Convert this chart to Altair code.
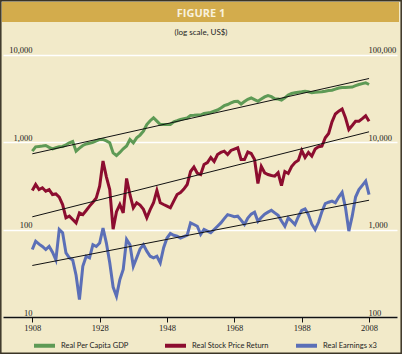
import altair as alt
import pandas as pd

years = list(range(1908, 2009))

gdp = [7850, 8810, 8900, 9000, 9120, 8700, 8360, 8600, 8810, 8900,
       9290, 9800, 10140, 7850, 8500, 9120, 9500, 9700, 9900, 10300,
       10690, 10690, 10300, 9790, 7500, 7010, 7600, 8360, 9000, 10690,
       9790, 11170, 12000, 13280, 15850, 17500, 18910, 17300, 15850, 15850,
       15850, 15850, 17000, 17500, 18070, 18500, 18800, 20090, 20200, 20370,
       20300, 21200, 21500, 21730, 22500, 23200, 24500, 26000, 26830, 28000,
       29040, 29200, 27180, 29000, 30800, 31840, 30500, 29240, 31000, 32800,
       33980, 33000, 31170, 31000, 30200, 32000, 34500, 35820, 36500, 37000,
       37500, 38100, 37500, 36480, 37000, 37300, 37500, 38000, 38700, 39080,
       40200, 41400, 42000, 42000, 42270, 42500, 44000, 45390, 46500, 47530,
       45390]

stock = [279, 327, 286, 300, 274, 286, 251, 255, 235, 193,
         136, 142, 130, 119, 155, 148, 165, 185, 205, 230,
         313, 607, 400, 286, 101, 160, 193, 155, 383, 250,
         177, 202, 190, 170, 136, 169, 202, 279, 202, 193,
         185, 177, 211, 251, 265, 290, 327, 460, 518, 440,
         425, 553, 583, 665, 599, 720, 760, 785, 720, 800,
         830, 859, 631, 631, 768, 739, 631, 336, 525, 445,
         425, 415, 407, 445, 318, 460, 437, 525, 583, 620,
         800, 665, 759, 689, 832, 882, 895, 1117, 1251, 1700,
         2089, 2250, 2384, 1891, 1389, 1544, 1728, 1728, 1850, 1993,
         1728]

earnings = [59, 73.5, 68, 64, 59, 64, 55, 45, 100, 92,
            54, 47.5, 45, 30, 15.8, 38, 49.5, 47.5, 67, 64,
            70, 104, 70, 41.6, 22, 17.3, 26.8, 35, 77, 67,
            38, 47.5, 60, 67, 56.5, 49.5, 47.5, 49.5, 41.6, 62,
            80, 90, 86, 84, 80, 83, 86, 119, 114, 109,
            88, 100, 96, 92, 100, 109, 119, 133, 148, 144,
            140, 142, 128, 114, 135, 150, 158, 124, 137, 150,
            158, 166, 155, 145, 125, 109, 136, 125, 114, 140,
            165, 172, 148, 115, 100, 121, 160, 198, 205, 211,
            202, 235, 266, 178, 96, 142, 235, 286, 320, 357,
            251]

trend_years = [1908, 2008]
gdp_trend = [7330, 53190]
stock_trend = [139.7, 1308]
earn_trend = [38.8, 216]

series_names = ["Real Per Capita GDP", "Real Stock Price Return", "Real Earnings x3"]
series_colors = ["#5e9a55", "#8c0d2f", "#5b6fb7"]
left_ticks = [10, 100, 1000, 10000]
right_ticks = [100, 1000, 10000, 100000]
x_ticks = [1908, 1928, 1948, 1968, 1988, 2008]

n = len(years)
df_left = pd.DataFrame({
    "year": years + years,
    "value": stock + earnings,
    "series": [series_names[1]] * n + [series_names[2]] * n,
})
df_gdp = pd.DataFrame({"year": years, "value": gdp, "series": [series_names[0]] * n})
df_trend_left = pd.DataFrame({
    "year": trend_years + trend_years,
    "value": stock_trend + earn_trend,
    "grp": ["stock", "stock", "earn", "earn"],
})
df_trend_right = pd.DataFrame({"year": trend_years, "value": gdp_trend})
deco = pd.DataFrame({"t": ["FIGURE 1"], "s": ["(log scale, US$)"]})

W, H = 394, 276
NUM_FONT = "Liberation Serif"
TXT_FONT = "Lato"

x_scale = alt.Scale(domain=[1899.3, 2016.3], nice=False, zero=False)
left_scale = alt.Scale(type="log", domain=[10, 14270], nice=False)
right_scale = alt.Scale(type="log", domain=[100, 142700], nice=False)
color_scale = alt.Scale(domain=series_names, range=series_colors)

x_axis = alt.Axis(values=x_ticks, format="d", title=None, grid=False,
                  domainColor="#111", domainWidth=1.5, tickColor="#111",
                  tickSize=5, tickWidth=1, labelFont=NUM_FONT, labelFontSize=8.5,
                  labelColor="#222", labelPadding=1, labelFlush=False)
left_axis = alt.Axis(values=left_ticks, format=",", title=None, orient="left",
                     domain=False, ticks=False, grid=True, gridColor="white",
                     gridWidth=1.5, labelAlign="right", labelPadding=-29,
                     labelBaseline="alphabetic", labelOffset=-2,
                     labelFont=NUM_FONT, labelFontSize=8.5, labelColor="#222")
right_axis = alt.Axis(values=right_ticks, format=",", title=None, orient="right",
                      domain=False, ticks=False, grid=False, labelAlign="left",
                      labelPadding=-29, labelBaseline="alphabetic", labelOffset=-2,
                      labelFont=NUM_FONT, labelFontSize=8.5, labelColor="#222")
legend = alt.Legend(title=None, orient="none", legendX=29, legendY=292,
                    direction="horizontal", symbolType="stroke", symbolSize=441,
                    symbolStrokeWidth=4, labelFont=TXT_FONT, labelFontSize=7.5,
                    labelColor="#222", columnPadding=19, gridAlign="all",
                    labelOffset=4)

x_enc = alt.X("year:Q", scale=x_scale, axis=x_axis)

left_lines = alt.Chart(df_left).mark_line(strokeWidth=3).encode(
    x=x_enc,
    y=alt.Y("value:Q", scale=left_scale, axis=left_axis),
    color=alt.Color("series:N", scale=color_scale, legend=legend),
)
left_trend = alt.Chart(df_trend_left).mark_line(color="#111", strokeWidth=1).encode(
    x=x_enc,
    y=alt.Y("value:Q", scale=left_scale, axis=left_axis),
    detail="grp:N",
)
left = alt.layer(left_lines, left_trend)

right_lines = alt.Chart(df_gdp).mark_line(strokeWidth=3).encode(
    x=x_enc,
    y=alt.Y("value:Q", scale=right_scale, axis=right_axis),
    color=alt.Color("series:N", scale=color_scale, legend=legend),
)
right_trend = alt.Chart(df_trend_right).mark_line(color="#111", strokeWidth=1).encode(
    x=x_enc,
    y=alt.Y("value:Q", scale=right_scale, axis=right_axis),
)
right = alt.layer(right_lines, right_trend)

band = alt.Chart(deco).mark_rect(color="#d3ac4c").encode(
    x=alt.value(-1), x2=alt.value(396), y=alt.value(-39), y2=alt.value(-19)
)
title_txt = alt.Chart(deco).mark_text(
    font="Open Sans", fontSize=11, fontWeight="bold", color="#f8f1dc",
    align="center", baseline="middle"
).encode(text="t:N", x=alt.value(198), y=alt.value(-27))
sub_txt = alt.Chart(deco).mark_text(
    font=TXT_FONT, fontSize=8, color="#222", align="center", baseline="middle"
).encode(text="s:N", x=alt.value(198), y=alt.value(-8))
frame = alt.Chart(deco).mark_rect(fillOpacity=0, stroke="#3a3426", strokeWidth=1.5).encode(
    x=alt.value(-2.2), x2=alt.value(398.2), y=alt.value(-40.2), y2=alt.value(312.2)
)

chart = alt.layer(band, title_txt, sub_txt, left, right, frame).resolve_scale(
    y="independent"
).properties(
    width=W, height=H,
    autosize=alt.AutoSizeParams(type="none"),
    padding={"left": 3, "top": 41, "right": 5, "bottom": 37},
    background="#f2eac9",
).configure_view(stroke=None)

chart.save("out.html", embed_options={"renderer": "svg", "actions": False})
